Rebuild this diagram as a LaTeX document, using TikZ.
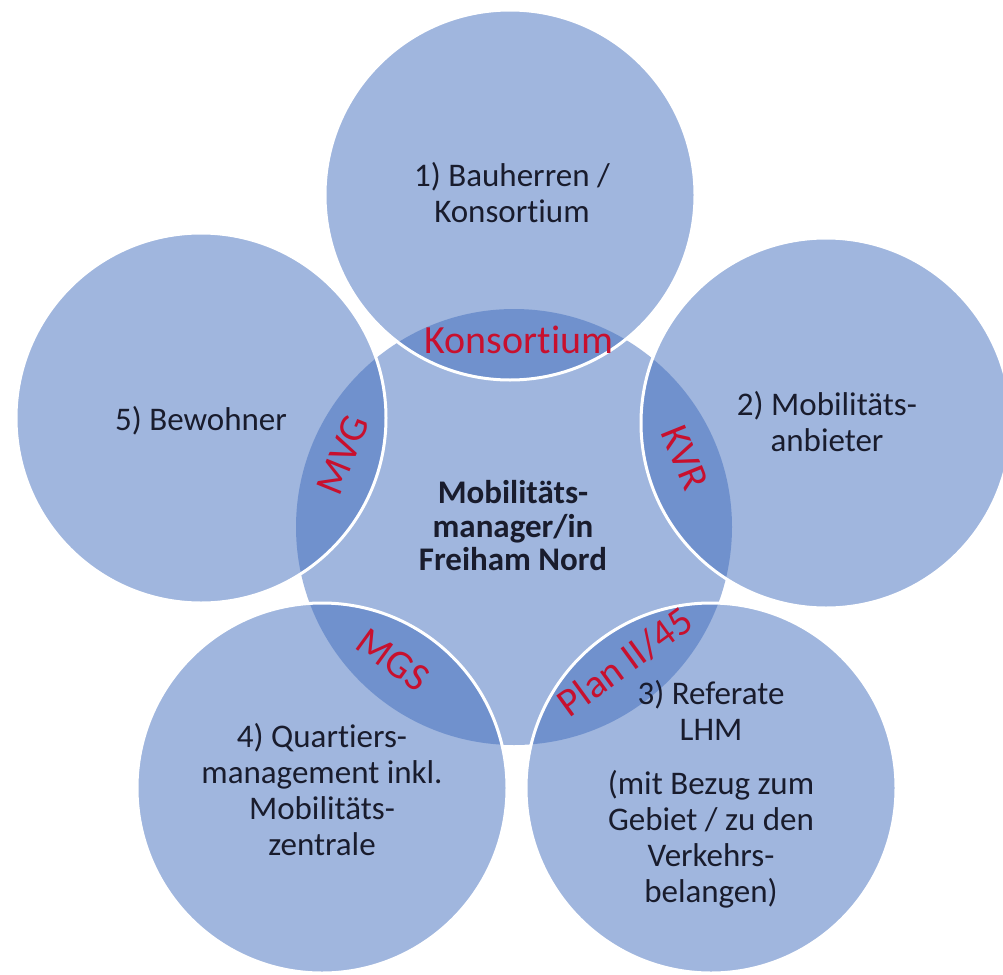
\documentclass[tikz,border=0pt]{standalone}
\usepackage{fontspec}
\setmainfont{Carlito}[Ligatures=NoCommon]
\definecolor{circblue}{RGB}{66,110,190}
\definecolor{lblred}{RGB}{200,16,46}
\definecolor{txt}{RGB}{25,28,45}
\begin{document}
\begin{tikzpicture}[x=1pt,y=-1pt,
  hub/.style={circle, fill=circblue, fill opacity=0.5, minimum size=436pt, inner sep=0pt},
  petal/.style={circle, fill=circblue, fill opacity=0.5, draw=white, draw opacity=1, line width=3pt, minimum size=370pt, inner sep=0pt},
  lbl/.style={text=txt, font=\fontsize{33}{36}\selectfont, align=center, inner sep=0pt},
  ovl/.style={text=lblred, font=\fontsize{40}{44}\selectfont, inner sep=0pt},
]
\fill[white] (0,0) rectangle (1003,974);
\useasboundingbox (0,0) rectangle (1003,974);
% circles
\node[hub] (hubc) at (514,527) {};
\node[petal] (c1) at (510,195) {};
\node[petal] (c2) at (826,423) {};
\node[petal] (c3) at (711,788) {};
\node[petal] (c4) at (322,788) {};
\node[petal] (c5) at (201,418) {};
% texts
\node[lbl] (t1) at (512,193) {1) Bauherren /\\Konsortium};
\node[lbl, anchor=base] (t5) at (201,430) {5) Bewohner};
\node[lbl] (t2) at (827,422) {2) Mobilitäts-\\anbieter};
\node[lbl] (t4) at (322,790) {4) Quartiers-\\management inkl.\\Mobilitäts-\\zentrale};
\node[lbl] (t3) at (711,794) {3) Referate\\LHM\\[18pt](mit Bezug zum\\Gebiet / zu den\\Verkehrs-\\belangen)};
\node[lbl, font=\bfseries\fontsize{33}{33.5}\selectfont] (tc) at (513,526) {Mobilitäts-\\manager/in\\Freiham Nord};
% overlap labels
\node[ovl] (o1) at (519,340) {Konsortium};
\node[ovl, rotate=68] (o5) at (343,455) {MVG};
\node[ovl, rotate=-68] (o2) at (685,458) {KVR};
\node[ovl, rotate=-36] (o4) at (393,660) {MGS};
\node[ovl, rotate=36] (o3) at (625,662) {Plan II/45};
\end{tikzpicture}
\end{document}
